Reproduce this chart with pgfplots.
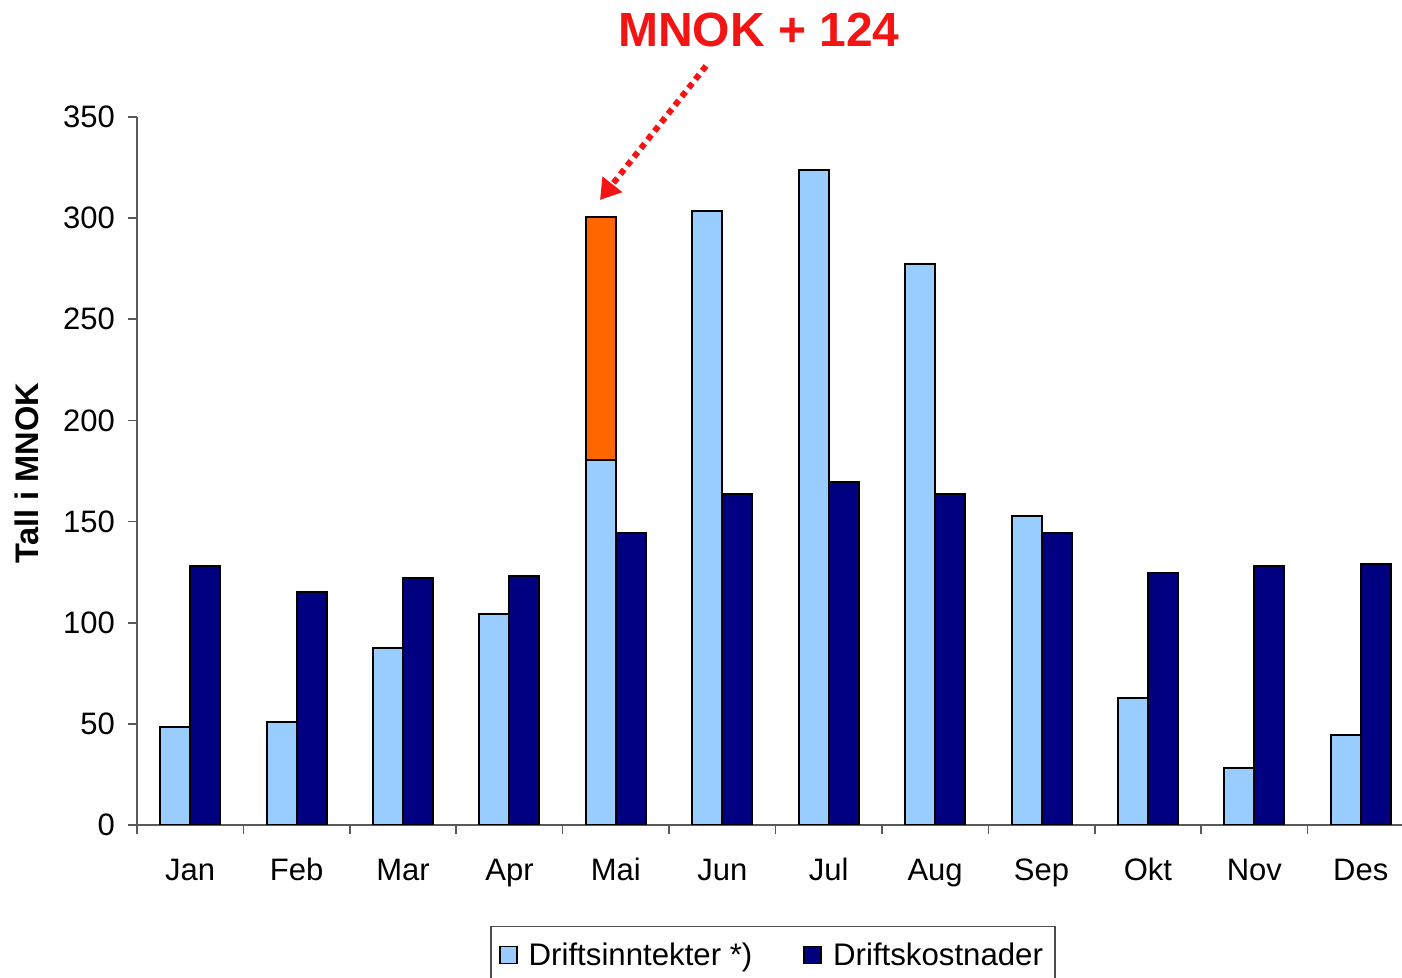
\documentclass[border=0pt]{standalone}
\usepackage{pgfplots}
\pgfplotsset{compat=1.18}
\usepackage{fontspec}
\setmainfont{Liberation Sans}
\usetikzlibrary{arrows.meta}
\definecolor{lightbar}{HTML}{99CCFF}
\definecolor{darkbar}{HTML}{000080}
\definecolor{orangebar}{HTML}{FF6600}
\definecolor{titlered}{HTML}{F51414}
\begin{document}
\begin{tikzpicture}
\path[use as bounding box] (0pt,0pt) rectangle (701pt,489pt);
\begin{axis}[
  at={(68.5pt,76.5pt)}, anchor=south west,
  scale only axis, width=638.5pt, height=354pt,
  xmin=-0.5, xmax=11.5, ymin=0, ymax=350,
  axis x line*=bottom, axis y line*=left,
  axis line style={black!65, line width=0.8pt},
  xtick={0,1,2,3,4,5,6,7,8,9,10,11},
  xticklabels={Jan,Feb,Mar,Apr,Mai,Jun,Jul,Aug,Sep,Okt,Nov,Des},
  major x tick style={draw=none},
  minor xtick={-0.5,0.5,1.5,2.5,3.5,4.5,5.5,6.5,7.5,8.5,9.5,10.5,11.5},
  minor x tick style={black!65, line width=0.8pt},
  minor tick length=4.5pt,
  ytick={0,50,100,150,200,250,300,350},
  major y tick style={black!65, line width=0.8pt},
  major tick length=4.5pt,
  tick align=outside,
  /pgf/number format/assume math mode=true,
  ticklabel style={font=\fontsize{15.5}{18}\selectfont},
  yticklabel style={xshift=-3pt},
  xticklabel style={anchor=base, yshift=-23.5pt},
  ylabel={\bfseries Tall i MNOK},
  ylabel style={at={(axis description cs:-0.0861,0.497)}, anchor=center, font=\fontsize{16.3}{19}\selectfont},
  legend columns=2,
  legend style={at={(0.498,-0.1427)}, anchor=north, draw=black!70, line width=0.6pt,
    font=\fontsize{15.6}{18}\selectfont, inner xsep=4pt, inner ysep=6pt,
    /tikz/every even column/.append style={column sep=23.5pt}},
  legend image code/.code={\draw[#1, draw=black, line width=0.8pt] (0pt,-4pt) rectangle (8.5pt,4.5pt); \path (12pt,0pt);},
]
\addplot[ybar, bar width=15pt, bar shift=-7.5pt, fill=orangebar, draw=black, line width=1pt, forget plot]
  coordinates {(4,300.5)};
\addplot[ybar, bar width=15pt, bar shift=-7.5pt, fill=lightbar, draw=black, line width=1pt]
  coordinates {(0,48.4) (1,50.9) (2,87.5) (3,104.3) (4,180.5) (5,303.5) (6,323.8) (7,277.3) (8,152.7) (9,62.8) (10,28.2) (11,44.5)};
\addlegendentry{Driftsinntekter *)}
\addplot[ybar, bar width=15pt, bar shift=7.5pt, fill=darkbar, draw=black, line width=1pt]
  coordinates {(0,128.0) (1,115.2) (2,122.1) (3,123.1) (4,144.3) (5,163.6) (6,169.6) (7,163.6) (8,144.3) (9,124.6) (10,128.0) (11,129.0)};
\addlegendentry{Driftskostnader}
\end{axis}
\node[text=titlered, font=\fontsize{24}{28}\selectfont\bfseries] at (379.5pt,474pt) {MNOK + 124};
\draw[titlered, line width=3pt, dash pattern=on 3pt off 2.5pt, -{Triangle[length=10pt,width=12pt]}] (353pt,456pt) -- (300pt,389pt);
\end{tikzpicture}
\end{document}
